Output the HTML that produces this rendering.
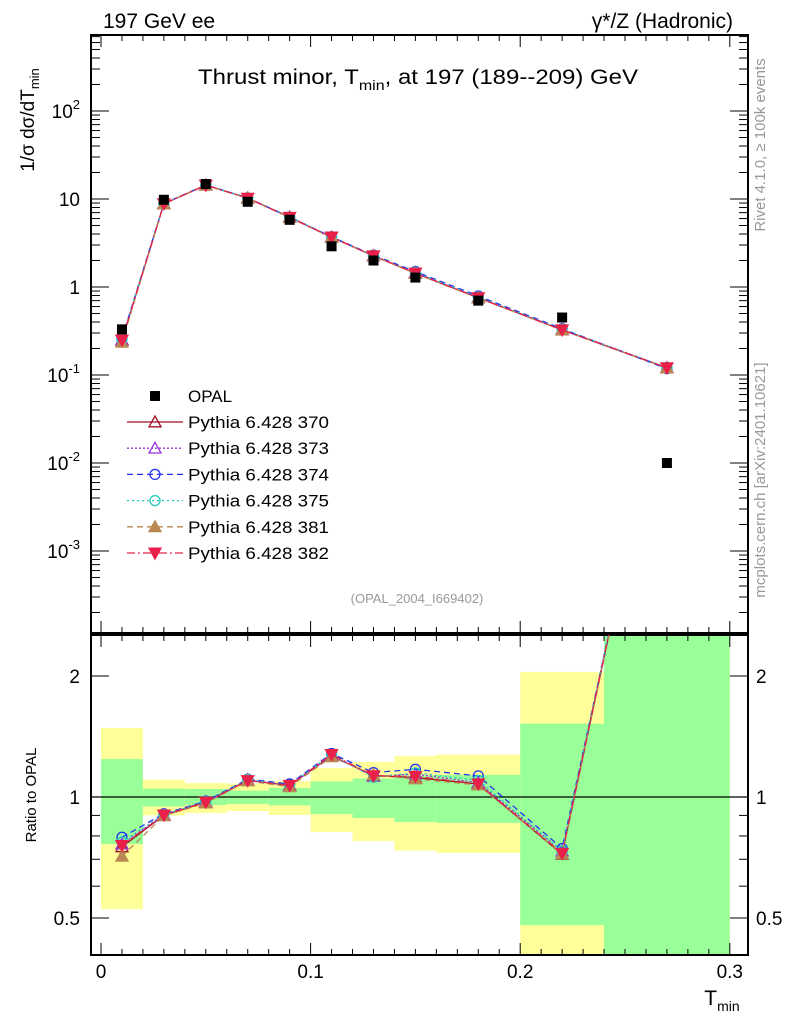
<!DOCTYPE html>
<html><head><meta charset="utf-8">
<style>
body{margin:0;background:#fff;}
svg{display:block;font-family:"Liberation Sans",sans-serif;}
</style></head>
<body>
<svg id="c" width="786" height="1024" viewBox="0 0 786 1024" xmlns="http://www.w3.org/2000/svg">
<text x="103" y="28" font-size="21">197 GeV ee</text>
<text x="733" y="28" font-size="21" text-anchor="end">γ*/Z (Hadronic)</text>
<text x="198" y="84" font-size="21" textLength="440" lengthAdjust="spacingAndGlyphs">Thrust minor, T<tspan font-size="14" dy="6">min</tspan><tspan dy="-6">, at 197 (189--209) GeV</tspan></text>
<text x="417" y="603" font-size="13" fill="#999" text-anchor="middle">(OPAL_2004_I669402)</text>
<text transform="translate(765,145) rotate(-90)" font-size="15" fill="#999" text-anchor="middle">Rivet 4.1.0, ≥ 100k events</text>
<text transform="translate(765,480) rotate(-90)" font-size="15" fill="#999" text-anchor="middle">mcplots.cern.ch [arXiv:2401.10621]</text>
<text transform="translate(34,120) rotate(-90)" font-size="19" text-anchor="middle">1/σ  dσ/dT<tspan font-size="13" dy="5">min</tspan></text>
<text transform="translate(36,795) rotate(-90)" font-size="15" text-anchor="middle">Ratio to OPAL</text>
<text x="722" y="1005" font-size="21" text-anchor="middle">T<tspan font-size="14" dy="6">min</tspan></text>
<g id="g"></g>
</svg>
<script>
const binEdges=[0,0.02,0.04,0.06,0.08,0.1,0.12,0.14,0.16,0.2,0.24,0.3];
const xCenters=[0.01,0.03,0.05,0.07,0.09,0.11,0.13,0.15,0.18,0.22,0.27];
const opal=[0.33,9.8,14.8,9.3,5.8,2.9,2.0,1.28,0.70,0.45,0.01];
const yellowLo=[0.526,0.90,0.912,0.923,0.902,0.818,0.777,0.736,0.726,0.30,0.30];
const yellowHi=[1.485,1.105,1.083,1.080,1.096,1.181,1.222,1.265,1.275,2.047,3.0];
const greenLo=[0.764,0.947,0.955,0.961,0.953,0.907,0.887,0.867,0.862,0.480,0.30];
const greenHi=[1.243,1.049,1.047,1.037,1.053,1.093,1.112,1.131,1.135,1.522,3.0];
const s370=[0.248,8.82,14.36,10.23,6.2,3.67,2.26,1.43,0.754,0.324,0.12];
const s373=[0.252,8.85,14.4,10.25,6.18,3.68,2.25,1.46,0.76,0.33,0.121];
const s374=[0.262,8.9,14.45,10.3,6.25,3.72,2.3,1.50,0.79,0.335,0.118];
const s375=[0.255,8.86,14.4,10.28,6.2,3.70,2.24,1.47,0.77,0.33,0.122];
const s381=[0.235,8.8,14.3,10.2,6.15,3.65,2.27,1.42,0.75,0.325,0.12];
const s382=[0.25,8.84,14.38,10.22,6.2,3.70,2.26,1.44,0.755,0.326,0.121];
const seriesNames=["Pythia 6.428 370","Pythia 6.428 373","Pythia 6.428 374","Pythia 6.428 375","Pythia 6.428 381","Pythia 6.428 382"];
const xTickLabels=["0","0.1","0.2","0.3"];
const mainTickLabels=["10^-3","10^-2","10^-1","1","10","10^2"];

const NS="http://www.w3.org/2000/svg";
const g=document.getElementById('g');
function el(t,a,p){const e=document.createElementNS(NS,t);for(const k in a)e.setAttribute(k,a[k]);(p||g).appendChild(e);return e;}
const X=v=>101+v*2096;
const Ym=v=>199-(Math.log10(v)-1)*88;
const Yr=v=>797-Math.log2(v)*121;
const L=91,R=748,MT=35,MB=633,RT=635,RB=955;

const bands=el('g',{});


const clipR=el('clipPath',{id:'cr'});el('rect',{x:L,y:RT,width:R-L,height:RB-RT},clipR);
const clipM=el('clipPath',{id:'cm'});el('rect',{x:L,y:MT,width:R-L,height:MB-MT},clipM);
bands.setAttribute('clip-path','url(#cr)');
for(let i=0;i<xCenters.length;i++){
 const x0=X(binEdges[i]),x1=X(binEdges[i+1]);
 const y=el('rect',{x:x0,y:Yr(yellowHi[i]),width:x1-x0,height:Yr(yellowLo[i])-Yr(yellowHi[i]),fill:'#ffff99'},bands);
 
 
 const gr=el('rect',{x:x0,y:Yr(greenHi[i]),width:x1-x0,height:Yr(greenLo[i])-Yr(greenHi[i]),fill:'#99ff99'},bands);
 
 
}
el('line',{x1:L,x2:R,y1:Yr(1),y2:Yr(1),stroke:'#000','stroke-width':1.3});

function frame(top,bot){
 el('rect',{x:L,y:top,width:R-L,height:bot-top,fill:'none',stroke:'#000','stroke-width':2});
 for(let k=0;k<=30;k++){const x=X(k/100);const len=k%10==0?12:6;
  el('line',{x1:x,x2:x,y1:bot,y2:bot-len,stroke:'#000','stroke-width':1});
  el('line',{x1:x,x2:x,y1:top,y2:top+len,stroke:'#000','stroke-width':1});}
}
frame(MT,MB);frame(RT,RB);
for(let d=-4;d<=3;d++){for(let m=1;m<10;m++){const v=m*Math.pow(10,d);const y=Ym(v);if(y<MT||y>MB)continue;const len=m==1?18:9;
 el('line',{x1:L,x2:L+len,y1:y,y2:y,stroke:'#000'});el('line',{x1:R,x2:R-len,y1:y,y2:y,stroke:'#000'});}}
[0.5,0.6,0.7,0.8,0.9,1,2].forEach(v=>{const y=Yr(v);const len=(v==0.5||v==1||v==2)?18:9;
 el('line',{x1:L,x2:L+len,y1:y,y2:y,stroke:'#000'});el('line',{x1:R,x2:R-len,y1:y,y2:y,stroke:'#000'});});
mainTickLabels.forEach((t,i)=>{const d=i-3;const y=Ym(Math.pow(10,d));
 const tx=el('text',{x:80,y:y+7,'font-size':19,'text-anchor':'end'});
 
 
 if(t.indexOf('^')>=0){const p=t.split('^');tx.textContent=p[0];const s=el('tspan',{'font-size':13,dy:-9},tx);s.textContent=p[1];}
 else tx.textContent=t;});
[["0.5",0.5],["1",1],["2",2]].forEach(([t,v])=>{
 const a=el('text',{x:80,y:Yr(v)+7,'font-size':19,'text-anchor':'end'});a.textContent=t;
 
 
 const b=el('text',{x:756,y:Yr(v)+7,'font-size':19});b.textContent=t;
 
 });
xTickLabels.forEach((t,i)=>{const a=el('text',{x:X(i*0.1),y:978,'font-size':19,'text-anchor':'middle'});a.textContent=t;
 
 });

function marker(type,x,y,c,parent){
 const s=6;
 if(type=='tu'||type=='tuf')return el('polygon',{points:`${x},${y-s} ${x-s},${y+s*0.8} ${x+s},${y+s*0.8}`,fill:type=='tuf'?c:'none',stroke:c,'stroke-width':1.3},parent);
 if(type=='tdf')return el('polygon',{points:`${x},${y+s} ${x-s},${y-s*0.8} ${x+s},${y-s*0.8}`,fill:c,stroke:c,'stroke-width':1.3},parent);
 return el('circle',{cx:x,cy:y,r:5,fill:'none',stroke:c,'stroke-width':1.3},parent);
}
const series=[s370,s373,s374,s375,s381,s382];
const colors=['#a01020','#9933dd','#2233ee','#22ccbb','#b88850','#e8204a'];
const dashes=['','2,2','6,4','2,3','6,4','8,3,2,3'];
const marks=['tu','tu','c','c','tuf','tdf'];
series.forEach((s,k)=>{
 const gm=el('g',{'clip-path':'url(#cm)'});
 
 
 el('polyline',{points:s.map((v,i)=>X(xCenters[i])+','+Ym(v)).join(' '),fill:'none',stroke:colors[k],'stroke-width':1.3,'stroke-dasharray':dashes[k]},gm);
 s.forEach((v,i)=>marker(marks[k],X(xCenters[i]),Ym(v),colors[k],gm));
 const gr=el('g',{'clip-path':'url(#cr)'});
 
 
 el('polyline',{points:s.map((v,i)=>X(xCenters[i])+','+Yr(v/opal[i])).join(' '),fill:'none',stroke:colors[k],'stroke-width':1.3,'stroke-dasharray':dashes[k]},gr);
 s.forEach((v,i)=>marker(marks[k],X(xCenters[i]),Yr(v/opal[i]),colors[k],gr));
});
const gd=el('g',{});


opal.forEach((v,i)=>{const r=el('rect',{x:X(xCenters[i])-5,y:Ym(v)-5,width:10,height:10,fill:'#000'},gd);
 
 });

const lg=el('g',{});


const le0=el('g',{},lg);


el('rect',{x:150,y:391,width:10,height:10,fill:'#000'},le0);
const t0=el('text',{x:188,y:402,'font-size':17},le0);t0.textContent='OPAL';
seriesNames.forEach((n,k)=>{const y=422+k*26.2;
 const le=el('g',{},lg);
 
 
 el('line',{x1:127,x2:183,y1:y,y2:y,stroke:colors[k],'stroke-width':1.3,'stroke-dasharray':dashes[k]},le);
 marker(marks[k],155,y,colors[k],le);
 const t=el('text',{x:188,y:y+6,'font-size':17,textLength:141,lengthAdjust:'spacingAndGlyphs'},le);t.textContent=n;});
</script>
</body></html>
